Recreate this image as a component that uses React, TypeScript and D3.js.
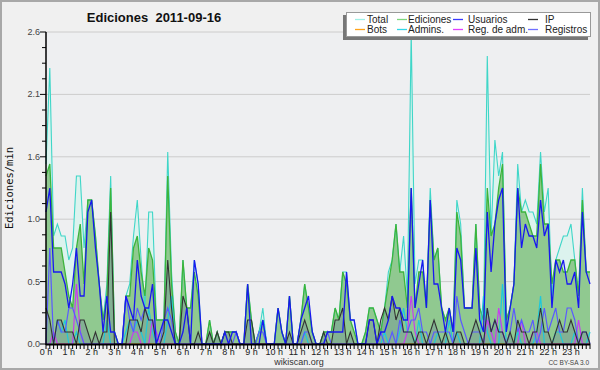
import React from "react";
import * as d3 from "d3";

// Ediciones por minuto, intervalos de 10 minutos (0:00 .. 23:50)
const hourLabels = d3.range(24).map((h) => `${h} h`);
const yTickValues = [0, 0.52, 1.04, 1.56, 2.08, 2.6];

const total = [
  1.5, 2.3, 0.9, 1.0, 0.9, 0.9,
  0.7, 0.8, 1.4, 1.4, 0.8, 1.2,
  1.2, 0.9, 0.5, 0.2, 0.5, 1.4,
  0.1, 0, 0, 0.4, 0.5, 0.9,
  1.2, 0.7, 0.3, 1.1, 1.1, 0.2,
  0.2, 0.2, 1.6, 0.6, 0.1, 0,
  0.7, 0.3, 0.3, 0.7, 0.5, 0,
  0, 0.2, 0, 0.1, 0, 0.1,
  0.1, 0.1, 0.1, 0, 0, 0.5,
  0.2, 0, 0.1, 0.3, 0, 0,
  0, 0.3, 0.1, 0, 0.4, 0,
  0, 0.2, 0.5, 0.3, 0.1, 0,
  0, 0.1, 0.1, 0.1, 0.3, 0.2,
  0.6, 0.6, 0.2, 0.2, 0, 0,
  0.1, 0.3, 0.3, 0.2, 0.1, 0.3,
  0.6, 0.7, 1.0, 0.6, 0.9, 0.4,
  2.6, 0.5, 0.7, 0.7, 0.3, 1.3,
  0.7, 0.8, 0.3, 0.2, 0.3, 0.1,
  1.2, 1.0, 0.3, 0.3, 0.3, 1.0,
  0.3, 0.2, 2.4, 0.9, 1.7, 1.4,
  1.6, 0.2, 0.3, 0.5, 1.5, 1.1,
  1.2, 1.1, 1.1, 1.0, 1.6, 1.1,
  1.3, 0.4, 0.7, 0.8, 0.9, 0.9,
  1.0, 0.7, 0.4, 1.3, 0.6, 0.6,
];

const ediciones = [
  1.4, 1.5, 0.8, 0.8, 0.8, 0.6,
  0.4, 0.3, 0.8, 1.0, 0.5, 1.2,
  1.2, 0.9, 0.5, 0.2, 0.4, 1.3,
  0.1, 0, 0, 0.4, 0.4, 0.8,
  0.9, 0.6, 0.4, 0.8, 0.7, 0.2,
  0.2, 0.2, 1.4, 0.5, 0.1, 0,
  0.7, 0.3, 0.3, 0.6, 0.4, 0,
  0, 0.2, 0, 0.1, 0, 0.1,
  0.1, 0.1, 0.1, 0, 0, 0.5,
  0.2, 0, 0.1, 0.2, 0, 0,
  0, 0.3, 0.1, 0, 0.4, 0,
  0, 0.2, 0.5, 0.3, 0.1, 0,
  0, 0.1, 0.1, 0.1, 0.3, 0.2,
  0.6, 0.5, 0.2, 0.1, 0, 0,
  0.1, 0.3, 0.3, 0.2, 0.1, 0.3,
  0.5, 0.7, 1.0, 0.6, 0.6, 0.3,
  1.3, 0.3, 0.6, 0.6, 0.3, 1.2,
  0.7, 0.8, 0.3, 0.2, 0.3, 0.1,
  1.1, 0.9, 0.3, 0.3, 0.3, 1.0,
  0.3, 0.2, 1.3, 0.9, 1.0, 1.3,
  1.5, 0.2, 0.3, 0.5, 1.3, 1.1,
  1.1, 1.0, 0.9, 0.9, 1.5, 1.0,
  1.0, 0.5, 0.7, 0.7, 0.6, 0.6,
  0.7, 0.7, 0.4, 1.2, 0.6, 0.6,
];

const usuarios = [
  1.1, 1.3, 0.6, 0.6, 0.6, 0.5,
  0.3, 0.5, 0.8, 0.4, 0.4, 1.1,
  1.2, 0.8, 0.5, 0.1, 0.4, 0.1,
  0.1, 0, 0, 0.4, 0.3, 0.2,
  0.7, 0.4, 0.3, 0.3, 0.5, 0,
  0.1, 0.2, 0.2, 0.1, 0, 0,
  0.1, 0.3, 0, 0.7, 0.5, 0,
  0, 0, 0, 0, 0, 0.1,
  0, 0.1, 0.1, 0, 0, 0.5,
  0, 0, 0, 0.2, 0, 0,
  0, 0.3, 0.1, 0, 0.4, 0,
  0, 0.2, 0.3, 0.4, 0.1, 0,
  0, 0, 0.1, 0.1, 0.1, 0.1,
  0.1, 0.6, 0.2, 0.2, 0, 0,
  0, 0.2, 0.2, 0, 0.1, 0.1,
  0.2, 0.4, 0.3, 0.3, 0.2, 0.2,
  1.3, 0.3, 0.5, 0.7, 0.3, 1.2,
  0.5, 0.5, 0.3, 0.1, 0.3, 0.1,
  0.8, 0.7, 0.3, 0.3, 0.3, 0.8,
  0.2, 0.1, 1.1, 0.6, 1.0, 1.2,
  1.3, 0.1, 0.3, 0.5, 1.3, 0.8,
  1.0, 0.9, 0.9, 0.8, 1.2, 0.9,
  1.0, 0.3, 0.7, 0.6, 0.7, 0.5,
  0.5, 0.6, 0.3, 1.1, 0.6, 0.5,
];

const ip = [
  0.3, 0.2, 0, 0.2, 0.2, 0.1,
  0.1, 0.1, 0, 0.2, 0.2, 0.1,
  0, 0.1, 0, 0.1, 0.1, 1.1,
  0, 0, 0, 0, 0.2, 0.2,
  0.2, 0.1, 0.3, 0.2, 0.2, 0,
  0, 0.1, 0.7, 0.3, 0, 0,
  0.4, 0.3, 0, 0, 0.1, 0,
  0, 0.1, 0, 0.1, 0, 0.1,
  0.1, 0, 0, 0, 0, 0.2,
  0.2, 0, 0, 0, 0, 0,
  0, 0, 0, 0, 0.1, 0,
  0, 0.1, 0.2, 0.1, 0, 0,
  0, 0.1, 0, 0, 0.2, 0.2,
  0.3, 0, 0.1, 0, 0, 0,
  0, 0.2, 0.2, 0, 0.2, 0.3,
  0.2, 0.4, 0.2, 0.3, 0.1, 0.1,
  0.1, 0, 0.1, 0.1, 0, 0.1,
  0.2, 0.1, 0, 0.1, 0, 0,
  0.1, 0.1, 0, 0, 0.1, 0.2,
  0.1, 0, 0.3, 0.1, 0.2, 0.1,
  0.1, 0, 0.1, 0, 0.2, 0.1,
  0.1, 0, 0.1, 0.1, 0.3, 0.1,
  0.1, 0, 0.1, 0.2, 0.1, 0.1,
  0.2, 0.1, 0, 0.1, 0.1, 0,
];

const bots = [
  0, 0, 0, 0, 0, 0, 0, 0, 0, 0, 0, 0, 0, 0, 0, 0, 0, 0, 0, 0, 0, 0, 0, 0,
  0, 0, 0, 0, 0, 0, 0, 0, 0, 0, 0, 0, 0, 0, 0, 0, 0, 0, 0, 0, 0, 0, 0, 0,
  0, 0, 0, 0, 0, 0, 0, 0, 0, 0, 0, 0, 0, 0, 0, 0, 0, 0, 0, 0, 0, 0, 0, 0,
  0, 0, 0, 0, 0, 0, 0, 0, 0, 0, 0, 0, 0, 0, 0, 0, 0, 0, 0, 0, 0, 0, 0, 0,
  0, 0, 0, 0, 0, 0, 0, 0, 0, 0, 0, 0, 0, 0, 0, 0, 0, 0, 0, 0, 0, 0, 0, 0,
  0, 0, 0, 0, 0, 0, 0, 0, 0, 0, 0, 0, 0, 0, 0, 0, 0, 0, 0, 0, 0, 0, 0, 0,
];

const admins = [
  0, 0, 0, 0.2, 0.1, 0.2,
  0, 0, 0.1, 0, 0, 0,
  0, 0, 0, 0, 0.2, 0,
  0, 0, 0, 0.1, 0.2, 0.1,
  0.2, 0.1, 0, 0.3, 0.1, 0,
  0, 0, 0.2, 0.4, 0, 0,
  0, 0, 0, 0, 0, 0,
  0, 0, 0, 0, 0, 0,
  0, 0, 0, 0, 0, 0,
  0, 0, 0.1, 0.2, 0, 0,
  0, 0, 0, 0, 0, 0,
  0, 0, 0.1, 0, 0, 0,
  0, 0, 0, 0, 0, 0,
  0, 0, 0, 0, 0, 0,
  0, 0, 0, 0, 0, 0.1,
  0, 0, 0, 0.1, 0.3, 0.1,
  0.1, 0, 0.2, 0, 0, 0,
  0, 0.1, 0, 0, 0.2, 0,
  0.1, 0, 0, 0, 0, 0,
  0, 0.4, 0.1, 0, 0, 0,
  0.5, 0, 0, 0, 0.1, 0,
  0, 0, 0, 0.1, 0.4, 0,
  0, 0, 0.1, 0.1, 0, 0,
  0, 0.1, 0, 0, 0, 0.1,
];

const regAdm = [
  0, 0, 0.1, 0, 0, 0,
  0, 0, 0.5, 0.1, 0, 0,
  0, 0, 0, 0, 0, 0,
  0, 0, 0, 0, 0, 0.1,
  0.1, 0, 0, 0, 0.2, 0.1,
  0, 0, 0, 0, 0, 0,
  0, 0, 0, 0, 0, 0,
  0, 0, 0, 0, 0, 0,
  0, 0, 0, 0, 0, 0,
  0, 0, 0, 0, 0, 0,
  0, 0, 0, 0, 0, 0,
  0, 0, 0, 0, 0, 0,
  0, 0, 0, 0, 0, 0,
  0, 0, 0, 0, 0, 0,
  0, 0, 0, 0, 0, 0,
  0, 0, 0, 0, 0, 0.1,
  0.4, 0.1, 0, 0, 0, 0,
  0, 0, 0, 0, 0, 0,
  0, 0, 0, 0, 0, 0,
  0, 0, 0.2, 0.1, 0, 0.3,
  0.1, 0, 0, 0, 0, 0.2,
  0, 0, 0.1, 0.1, 0, 0,
  0, 0, 0, 0, 0, 0,
  0, 0, 0.2, 0, 0, 0,
];

const registros = [
  0, 0.8, 0, 0.2, 0.1, 0.1,
  0.3, 0.3, 0.2, 0.1, 0, 0,
  0, 0, 0, 0, 0, 0,
  0, 0, 0, 0.4, 0.2, 0.1,
  0.3, 0.2, 0.3, 0.2, 0.2, 0,
  0, 0.2, 0.3, 0.2, 0, 0,
  0, 0, 0, 0, 0, 0,
  0, 0, 0, 0, 0, 0,
  0, 0, 0.1, 0, 0, 0,
  0, 0, 0.1, 0.1, 0, 0,
  0, 0, 0, 0, 0, 0,
  0, 0, 0.1, 0.1, 0, 0,
  0, 0, 0.1, 0, 0, 0,
  0, 0, 0, 0, 0, 0,
  0, 0, 0, 0, 0.1, 0,
  0, 0.1, 0, 0.2, 0.1, 0.1,
  0.2, 0.2, 0.3, 0.1, 0.1, 0,
  0.1, 0.1, 0.1, 0.1, 0.1, 0,
  0.4, 0.2, 0.1, 0, 0.1, 0.1,
  0.1, 0, 0.3, 0.1, 0.2, 0.1,
  0.1, 0, 0.1, 0.3, 0.1, 0.2,
  0.1, 0.1, 0.2, 0, 0.1, 0.3,
  0.1, 0.2, 0.3, 0.1, 0.1, 0.3,
  0.3, 0.2, 0, 0.1, 0.1, 0,
];

const legendItems = [
  { name: "Total", color: "#9ff0e6" },
  { name: "Ediciones", color: "#7ed67e" },
  { name: "Usuarios", color: "#3a3aff" },
  { name: "IP", color: "#333333" },
  { name: "Bots", color: "#ffa31a" },
  { name: "Admins.", color: "#33d6e6" },
  { name: "Reg. de adm.", color: "#e040ff" },
  { name: "Registros", color: "#7070ff" },
];

const W = 600;
const H = 370;
const X0 = 46;
const X1 = 590;
const Y0 = 344;
const Y1 = 32;
const FONT = "'Liberation Sans', Arial, sans-serif";

export default function App() {
  const n = total.length;
  const x = d3.scaleLinear().domain([0, n - 1]).range([X0, X1]);
  const y = d3.scaleLinear().domain([0, 2.6]).range([Y0, Y1]);

  const line = d3
    .line<number>()
    .x((_, i) => x(i))
    .y((d) => y(d));
  const area = d3
    .area<number>()
    .x((_, i) => x(i))
    .y0(y(0))
    .y1((d) => y(d));

  const minorY = d3.range(0, 21).map((k) => (2.6 / 20) * k);
  const fmt = d3.format(".1f");
  const idx = d3.range(n);

  const series = [
    { data: total, color: "#3fd6c8", w: 1.1 },
    { data: ediciones, color: "#3cb43c", w: 1.3 },
    { data: bots, color: "#ffa31a", w: 1 },
    { data: admins, color: "#1ec8dc", w: 1.2 },
    { data: regAdm, color: "#c83cf0", w: 1.2 },
    { data: registros, color: "#5a5aff", w: 1.2 },
    { data: ip, color: "#333333", w: 1.1 },
    { data: usuarios, color: "#1818f0", w: 1.3 },
  ];

  return (
    <div style={{ position: "fixed", left: 0, top: 0 }}>
      <svg width={W} height={H} style={{ display: "block" }}>
        <rect x={0} y={0} width={W} height={H} fill="#f0f0f0" />
        <rect x={1} y={1} width={W - 2} height={H - 2} fill="none" stroke="#a8a8a8" strokeWidth={2} />
        <rect x={X0} y={Y1} width={X1 - X0} height={Y0 - Y1} fill="#eeeff1" />

        {/* grid */}
        {yTickValues.slice(1).map((v) => (
          <line key={v} x1={X0} x2={X1} y1={y(v)} y2={y(v)} stroke="#cccccc" strokeWidth={1} />
        ))}

        {/* fills */}
        <path d={area(total) || ""} fill="#dcf3ee" />
        <path d={area(ediciones) || ""} fill="#90c990" />
        <path d={area(ip) || ""} fill="#5a6a9a" fillOpacity={0.25} />

        {/* lines */}
        {series.map((s, k) => (
          <path key={k} d={line(s.data) || ""} fill="none" stroke={s.color} strokeWidth={s.w} strokeLinejoin="miter" />
        ))}

        {/* y axis */}
        <line x1={X0} x2={X0} y1={Y1} y2={Y0 + 1} stroke="#000" strokeWidth={1.5} />
        {minorY.map((v, k) => (
          <line key={k} x1={k % 4 === 0 ? X0 - 6 : X0 - 4} x2={X0} y1={y(v)} y2={y(v)} stroke="#000" strokeWidth={1} />
        ))}
        {yTickValues.map((v) => (
          <text key={v} x={X0 - 6} y={y(v) + 3} textAnchor="end" fontSize={9} fill="#444" fontFamily={FONT}>
            {fmt(v)}
          </text>
        ))}
        <text
          transform={`translate(13,188) rotate(-90)`}
          textAnchor="middle"
          fontSize={10.5}
          fill="#111"
          fontFamily="'DejaVu Sans Mono', monospace"
        >
          Ediciones/min
        </text>

        {/* x axis */}
        <line x1={X0} x2={X1} y1={Y0 + 0.5} y2={Y0 + 0.5} stroke="#000" strokeWidth={2} />
        {idx.map((i) => (
          <line key={i} x1={x(i)} x2={x(i)} y1={Y0} y2={Y0 + 5} stroke="#000" strokeWidth={1} />
        ))}
        {hourLabels.map((lab, h) => (
          <text key={lab} x={x(h * 6)} y={355} textAnchor="middle" fontSize={9} fill="#222" fontFamily={FONT}>
            {lab}
          </text>
        ))}

        {/* title */}
        <text x={154} y={22} textAnchor="middle" fontSize={13} fontWeight="bold" fill="#111" fontFamily={FONT} style={{ whiteSpace: "pre" }}>
          {"Ediciones  2011-09-16"}
        </text>

        <text x={299} y={365} textAnchor="middle" fontSize={9} fill="#333" fontFamily={FONT}>
          wikiscan.org
        </text>
        <text x={589} y={365} textAnchor="end" fontSize={6.5} fill="#444" fontFamily={FONT}>
          CC BY-SA 3.0
        </text>

        {/* legend */}
        <rect x={343} y={15} width={245} height={25} fill="#777" />
        <rect x={346.5} y={12.5} width={244} height={24} fill="#fff" stroke="#999" strokeWidth={1} />
        {legendItems.map((it, k) => {
          const col = k % 4;
          const row = Math.floor(k / 4);
          const lx = [355, 397, 453, 528][col];
          const tx = [367, 408, 468, 545][col];
          const ly = 19.5 + row * 10;
          return (
            <g key={it.name}>
              <line x1={lx} x2={lx + 10} y1={ly} y2={ly} stroke={it.color} strokeWidth={1.3} />
              <text x={tx} y={ly + 3.5} fontSize={10} fill="#222" fontFamily={FONT}>
                {it.name}
              </text>
            </g>
          );
        })}
      </svg>
    </div>
  );
}
